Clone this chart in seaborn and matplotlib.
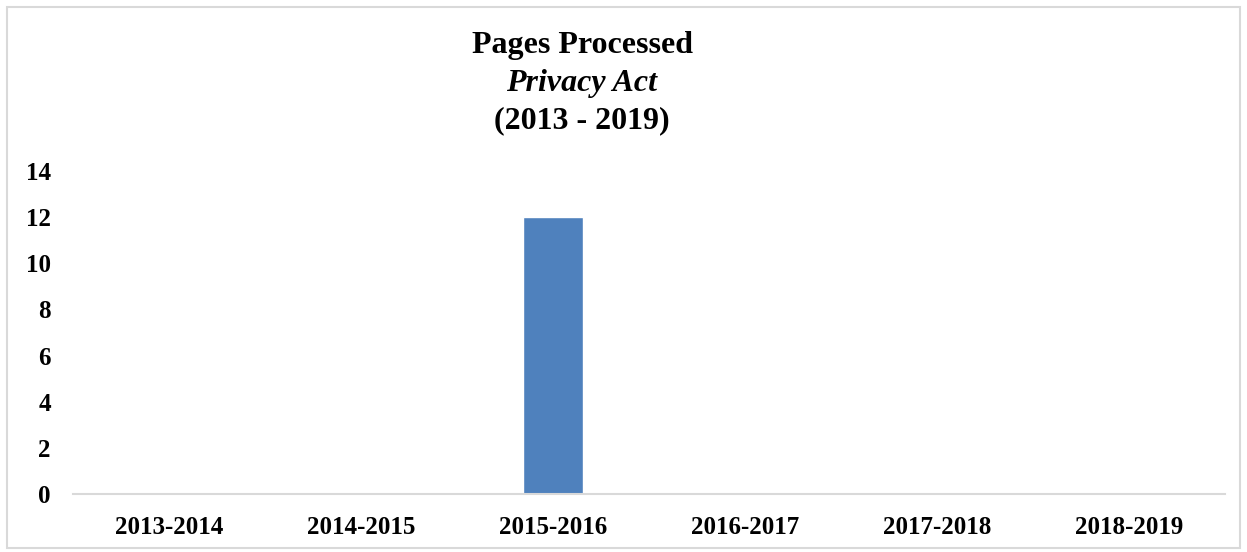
import pandas as pd
import matplotlib.pyplot as plt
import seaborn as sns
from matplotlib.patches import Rectangle

sns.set_theme(style="white")
plt.rcParams['font.family'] = ['Liberation Serif', 'DejaVu Serif']
plt.rcParams['text.color'] = 'black'
plt.rcParams['xtick.color'] = 'black'
plt.rcParams['ytick.color'] = 'black'

# Data
years = ["2013-2014", "2014-2015", "2015-2016", "2016-2017", "2017-2018", "2018-2019"]
pages = [0, 0, 12, 0, 0, 0]

df = pd.DataFrame({"year": years, "pages": pages})

fig = plt.figure(figsize=(12.47, 5.52), dpi=100)
ax = fig.add_axes([73 / 1247, 1 - 494 / 552, 1152 / 1247, 323 / 552])

sns.barplot(data=df, x="year", y="pages", color="#4F81BD", width=0.31,
            saturation=1, ax=ax)

ax.set_ylim(0, 14)
ax.set_yticks(range(0, 15, 2))
ax.set_xlabel("")
ax.set_ylabel("")
for lab in ax.get_xticklabels() + ax.get_yticklabels():
    lab.set_fontweight("bold")
    lab.set_fontsize(18)
ax.tick_params(axis="y", length=0, pad=16)
ax.tick_params(axis="x", length=0, pad=16)
for s in ["top", "right", "left"]:
    ax.spines[s].set_visible(False)
ax.spines["bottom"].set_color("#d9d9d9")
ax.spines["bottom"].set_linewidth(1.5)

# Title: three lines, middle one italic
tx = 582 / 1247
fig.text(tx, 1 - 45 / 552, "Pages Processed", ha="center", va="center",
         fontsize=23, fontweight="bold")
fig.text(tx, 1 - 83 / 552, "Privacy Act", ha="center", va="center",
         fontsize=23, fontweight="bold", style="italic")
fig.text(tx, 1 - 121 / 552, "(2013 - 2019)", ha="center", va="center",
         fontsize=23, fontweight="bold")

# Light grey frame around the chart
fig.patches.append(Rectangle((7 / 1247, 4 / 552), 1233 / 1247, 541 / 552,
                             transform=fig.transFigure, fill=False,
                             edgecolor="#d9d9d9", linewidth=1.5))

fig.savefig("out.png", dpi=100)
